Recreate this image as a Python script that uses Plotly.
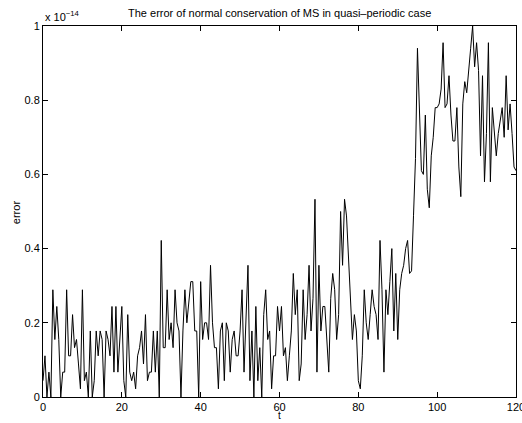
import plotly.graph_objects as go

# error values in units of 1e-14, sampled every 0.5 time units from t=0 to t=120
seg1 = [0.044, 0.111, 0, 0.067, 0, 0.289, 0.155, 0.244, 0.155, 0,
        0.067, 0.067, 0.289, 0.111, 0.111, 0.222, 0.133, 0.155, 0.089, 0.022,
        0.289, 0.044, 0.067, 0, 0.178, 0, 0.044, 0.178, 0.111, 0.178,
        0.155, 0, 0.178, 0.155, 0.111, 0.244, 0.067, 0.244, 0.067, 0.155,
        0.244, 0.044, 0, 0.222, 0.067, 0.044, 0.067, 0.022, 0.111, 0.133]
seg2 = [0.178, 0.089, 0.222, 0.044, 0.067, 0.067, 0.178, 0.067, 0.178, 0,
        0.422, 0.133, 0.133, 0.289, 0.155, 0.2, 0.133, 0.289, 0.2, 0.178,
        0, 0.178, 0.289, 0.2, 0.266, 0.311, 0.311, 0.178, 0.178, 0,
        0.311, 0.155, 0.2, 0.2, 0.155, 0.355, 0.2, 0.133, 0.133, 0.022,
        0.178, 0.2, 0.044, 0.2, 0.178, 0.067, 0.155, 0.178, 0.111, 0.111,
        0.178]
seg3 = [0.289, 0.067, 0.2, 0.355, 0.044, 0.178, 0, 0.244, 0.044, 0.133,
        0, 0.222, 0.289, 0.155, 0.178, 0.022, 0.111, 0.111, 0.244, 0.178,
        0.244, 0.111, 0.133, 0.044, 0.111, 0.178, 0.333, 0.222, 0.289, 0.044,
        0.089, 0.289, 0.155, 0.222, 0.355, 0.178, 0.266, 0.533, 0.067, 0.355,
        0.178, 0.244, 0.244, 0.155, 0.067, 0.266, 0.333, 0.289, 0.155, 0.222]
seg4 = [0.5, 0.355, 0.533, 0.488, 0.377, 0.289, 0.155, 0.222, 0.178, 0.044,
        0.022, 0.111, 0.289, 0.2, 0.155, 0.222, 0.289, 0.244, 0.222, 0.155,
        0.422, 0.289, 0.067, 0.289, 0.222, 0.311, 0.4, 0.178, 0.333, 0.155,
        0.289, 0.333, 0.355, 0.4, 0.422, 0.333]
seg5 = [0.34, 0.49, 0.643, 0.94, 0.76, 0.61, 0.6, 0.76, 0.56, 0.51,
        0.65, 0.70, 0.78, 0.78, 0.79, 0.83, 0.955, 0.78, 0.79, 0.866,
        0.76, 0.69, 0.69, 0.78, 0.62, 0.54, 0.79, 0.85, 0.82, 0.89,
        0.94, 1.0, 0.89, 0.955, 0.88, 0.65, 0.866, 0.58, 0.71, 0.955,
        0.58, 0.78, 0.71, 0.65, 0.71, 0.74, 0.78, 0.70, 0.866, 0.72,
        0.79, 0.71, 0.62, 0.61]
error_vals = seg1 + seg2 + seg3 + seg4 + seg5

x_ticks = [0, 20, 40, 60, 80, 100, 120]
y_ticks = [0, 0.2, 0.4, 0.6, 0.8, 1]
y_tick_labels = ["0", "0.2", "0.4", "0.6", "0.8", "1"]

FAM = "Liberation Sans, Arial, sans-serif"
font = dict(family=FAM, size=11, color="black")

fig = go.Figure(go.Scatter(
    y=error_vals, x0=0, dx=0.5, mode="lines",
    line=dict(color="black", width=1), showlegend=False, hoverinfo="skip"))

axis_common = dict(showline=True, linecolor="black", linewidth=1, mirror="ticks",
                   ticks="inside", ticklen=5, tickcolor="black", showgrid=False,
                   zeroline=False, tickfont=font, automargin=False,
                   ticklabeloverflow="allow")
fig.update_xaxes(range=[0, 120], tickvals=x_ticks, **axis_common)
fig.update_yaxes(range=[0, 1], tickvals=y_ticks, ticktext=y_tick_labels, **axis_common)

fig.update_layout(
    width=522, height=423,
    margin=dict(l=43, r=6, t=26, b=26, autoexpand=False),
    paper_bgcolor="white", plot_bgcolor="white",
    font=font,
    annotations=[
        dict(text="The error of normal conservation of MS in quasi\u2013periodic case",
             xref="paper", yref="paper", x=0.5, y=1.035, xanchor="center", yanchor="middle",
             showarrow=False, font=font),
        dict(text="x 10<sup>\u221214</sup>", xref="paper", yref="paper",
             x=0.0, y=1.002, xanchor="left", yanchor="bottom", showarrow=False,
             font=font),
        dict(text="t", xref="paper", yref="paper", x=0.5, y=-0.0695,
             xanchor="center", yanchor="bottom", showarrow=False,
             font=dict(family=FAM, size=10, color="black")),
        dict(text="error", xref="paper", yref="paper", x=-0.058, y=0.497,
             xanchor="center", yanchor="middle", textangle=-90, showarrow=False, font=font),
    ],
)

fig.write_html("out.html",
               config={"displayModeBar": False, "staticPlot": True},
               post_script="document.body.style.margin='0px';"
                           "document.body.style.overflow='hidden';")
